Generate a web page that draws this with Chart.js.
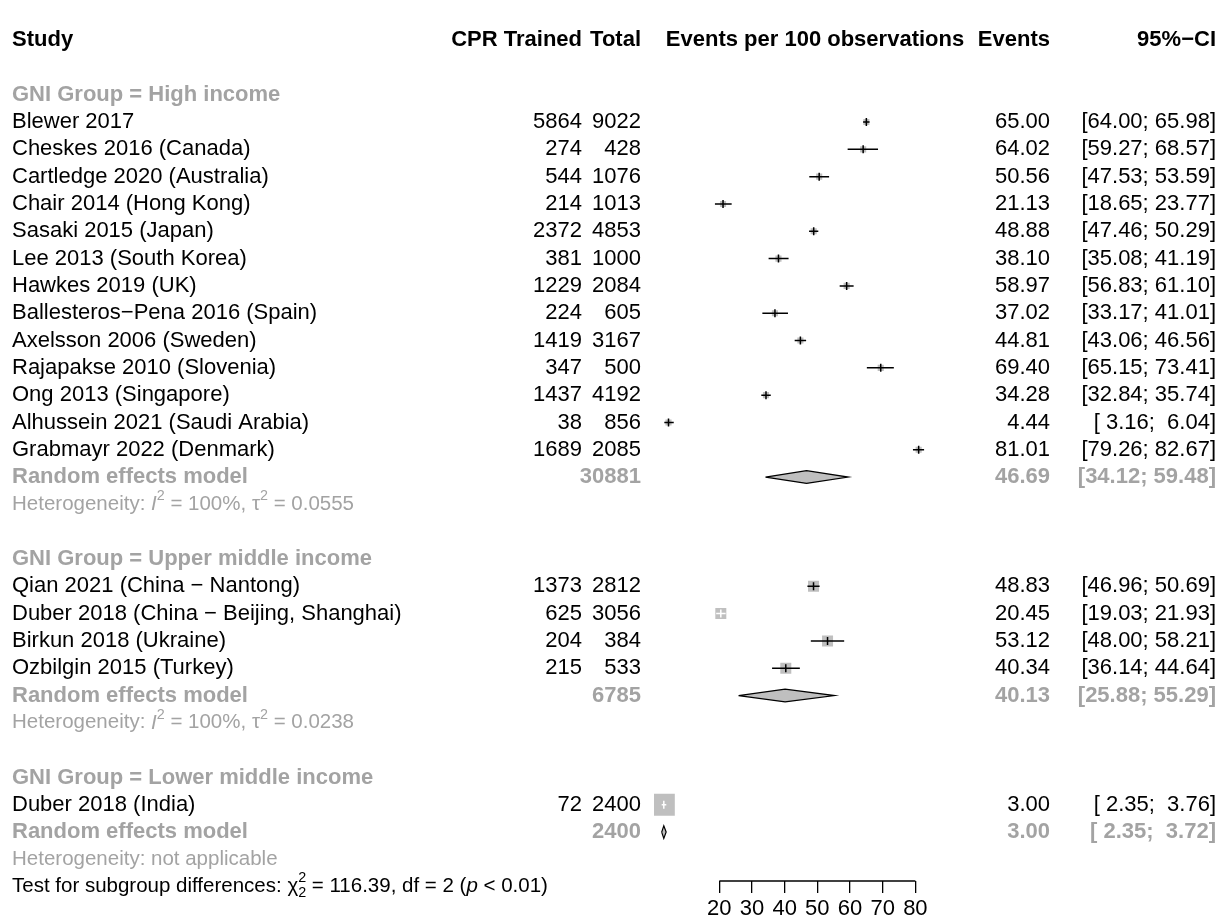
<!DOCTYPE html>
<html lang="en">
<head>
<meta charset="UTF-8">
<title>Forest plot – CPR trained by GNI group</title>
<script src="https://cdn.jsdelivr.net/npm/chart.js"></script>
<style>
  html, body { margin: 0; padding: 0; background: #fff; }
  #forest { display: block; }
</style>
</head>
<body>
<canvas id="forest" width="1226" height="921"></canvas>
<script>
// ---- data ----
const studyNames = [
  'Blewer 2017', 'Cheskes 2016 (Canada)', 'Cartledge 2020 (Australia)', 'Chair 2014 (Hong Kong)',
  'Sasaki 2015 (Japan)', 'Lee 2013 (South Korea)', 'Hawkes 2019 (UK)', 'Ballesteros−Pena 2016 (Spain)',
  'Axelsson 2006 (Sweden)', 'Rajapakse 2010 (Slovenia)', 'Ong 2013 (Singapore)',
  'Alhussein 2021 (Saudi Arabia)', 'Grabmayr 2022 (Denmark)',
  'Qian 2021 (China − Nantong)', 'Duber 2018 (China − Beijing, Shanghai)', 'Birkun 2018 (Ukraine)',
  'Ozbilgin 2015 (Turkey)',
  'Duber 2018 (India)'
];
const studyGroup = [0,0,0,0,0,0,0,0,0,0,0,0,0, 1,1,1,1, 2];
const cprTrained = [5864, 274, 544, 214, 2372, 381, 1229, 224, 1419, 347, 1437, 38, 1689, 1373, 625, 204, 215, 72];
const totals     = [9022, 428, 1076, 1013, 4853, 1000, 2084, 605, 3167, 500, 4192, 856, 2085, 2812, 3056, 384, 533, 2400];
const events  = [65.00, 64.02, 50.56, 21.13, 48.88, 38.10, 58.97, 37.02, 44.81, 69.40, 34.28, 4.44, 81.01, 48.83, 20.45, 53.12, 40.34, 3.00];
const ciLower = [64.00, 59.27, 47.53, 18.65, 47.46, 35.08, 56.83, 33.17, 43.06, 65.15, 32.84, 3.16, 79.26, 46.96, 19.03, 48.00, 36.14, 2.35];
const ciUpper = [65.98, 68.57, 53.59, 23.77, 50.29, 41.19, 61.10, 41.01, 46.56, 73.41, 35.74, 6.04, 82.67, 50.69, 21.93, 58.21, 44.64, 3.76];
// approximate random-effects weights (%) within each group
const weights = [7.7,7.7,7.7,7.7,7.7,7.7,7.7,7.7,7.7,7.7,7.7,7.7,7.7, 25,25,25,25, 100];

const groupNames  = ['GNI Group = High income', 'GNI Group = Upper middle income', 'GNI Group = Lower middle income'];
const groupTotals = [30881, 6785, 2400];
const reEst   = [46.69, 40.13, 3.00];
const reLower = [34.12, 25.88, 2.35];
const reUpper = [59.48, 55.29, 3.72];
const hetI2   = ['100%', '100%', null];
const hetTau2 = ['0.0555', '0.0238', null];
const testChi2 = '116.39', testDf = '2', testP = '< 0.01';
const xTicks = [20, 30, 40, 50, 60, 70, 80];

// ---- layout ----
const FONT = '"Liberation Sans", Arial, Helvetica, sans-serif';
const FS = 22, FS_SMALL = 20.5;
const GRAY = '#a3a3a3', SQ_GRAY = '#bfbfbf';
const ROW_H = 27.8, ROW0_Y = 25;
const AXIS_H = 40, CANVAS_H = 921;
const X_MIN = 0, X_MAX = 88, PLOT_L = 654, PLOT_R = 941.5;
const PX_PER_UNIT = (PLOT_R - PLOT_L) / (X_MAX - X_MIN);
const COL = { study: 12, cpr: 582, total: 641, plotHead: 815, events: 1050, ci: 1216 };
const sqSide = w => 2.2 * Math.sqrt(w);

// row numbers: header 0, blank 1, then groups
const studyRow = [], groupRow = [], reRow = [], hetRow = [];
let r = 2;
groupNames.forEach((g, gi) => {
  groupRow.push(r++);
  studyGroup.forEach((sg, i) => { if (sg === gi) studyRow[i] = r++; });
  reRow.push(r++);
  hetRow.push(r++);
  if (gi < groupNames.length - 1) r++;
});
const testRow = r;

const yMin = -ROW0_Y / ROW_H;
const yMax = yMin + (CANVAS_H - AXIS_H) / ROW_H;

const inside = studyNames.map((_, i) => (ciUpper[i] - ciLower[i]) * PX_PER_UNIT < sqSide(weights[i]));
const fmt2 = v => v.toFixed(2);
const pad5 = s => ' '.repeat(Math.max(0, 5 - s.length)) + s;
const ciText = (lo, hi) => '[' + pad5(fmt2(lo)) + '; ' + pad5(fmt2(hi)) + ']';

// ---- datasets ----
const datasets = [];
datasets.push({
  type: 'scatter',
  data: studyNames.map((_, i) => ({ x: events[i], y: studyRow[i] })),
  pointStyle: 'rect',
  pointRadius: ctx => sqSide(weights[ctx.dataIndex]) / Math.SQRT2,
  backgroundColor: SQ_GRAY,
  pointBorderWidth: 0,
  order: 3
});
studyNames.forEach((_, i) => {
  datasets.push({
    type: 'line',
    data: [{ x: ciLower[i], y: studyRow[i] }, { x: ciUpper[i], y: studyRow[i] }],
    borderColor: inside[i] ? '#ffffff' : '#000000',
    borderWidth: 1.5,
    pointRadius: 0,
    fill: false,
    order: 2
  });
});
datasets.push({
  type: 'scatter',
  data: studyNames.map((_, i) => ({ x: events[i], y: studyRow[i] })),
  pointStyle: 'line',
  rotation: 90,
  pointRadius: 4,
  pointBorderWidth: 1.5,
  pointBorderColor: studyNames.map((_, i) => inside[i] ? '#ffffff' : '#000000'),
  order: 1
});
const DH = 6.5 / ROW_H;
groupNames.forEach((_, g) => {
  const y = reRow[g];
  datasets.push({
    type: 'line',
    data: [
      { x: reLower[g], y }, { x: reEst[g], y: y - DH }, { x: reUpper[g], y },
      { x: reEst[g], y: y + DH }, { x: reLower[g], y }
    ],
    borderColor: '#000',
    borderWidth: 1.2,
    backgroundColor: SQ_GRAY,
    fill: 'shape',
    pointRadius: 0,
    tension: 0,
    order: 3
  });
});

// ---- text + axis line ----
function runs(ctx, parts, x, y, size) {
  let cx = x;
  parts.forEach(p => {
    const s = (p.sup || p.sub) ? size * 0.7 : size;
    ctx.font = (p.italic ? 'italic ' : '') + s + 'px ' + FONT;
    const dy = p.sup ? -size * 0.4 : p.sub ? size * 0.32 : 0;
    ctx.fillText(p.t, cx, y + dy);
    if (!p.stack) cx += ctx.measureText(p.t).width;
  });
}

const forestText = {
  id: 'forestText',
  afterDraw(chart) {
    const ctx = chart.ctx;
    const ys = chart.scales.y, xs = chart.scales.x;
    const Y = row => ys.getPixelForValue(row);
    ctx.save();
    ctx.textBaseline = 'middle';

    // axis baseline from first to last tick
    ctx.strokeStyle = '#000';
    ctx.lineWidth = 1.3;
    ctx.beginPath();
    ctx.moveTo(xs.getPixelForValue(xTicks[0]), chart.chartArea.bottom);
    ctx.lineTo(xs.getPixelForValue(xTicks[xTicks.length - 1]), chart.chartArea.bottom);
    ctx.stroke();

    const put = (t, x, y, align, color, bold, size) => {
      ctx.font = (bold ? 'bold ' : '') + (size || FS) + 'px ' + FONT;
      ctx.fillStyle = color;
      ctx.textAlign = align;
      ctx.fillText(t, x, y);
    };

    // header
    const hy = Y(0);
    put('Study', COL.study, hy, 'left', '#000', true);
    put('CPR Trained', COL.cpr, hy, 'right', '#000', true);
    put('Total', COL.total, hy, 'right', '#000', true);
    put('Events per 100 observations', COL.plotHead, hy, 'center', '#000', true);
    put('Events', COL.events, hy, 'right', '#000', true);
    put('95%−CI', COL.ci, hy, 'right', '#000', true);

    // studies
    studyNames.forEach((name, i) => {
      const y = Y(studyRow[i]);
      put(name, COL.study, y, 'left', '#000', false);
      put(String(cprTrained[i]), COL.cpr, y, 'right', '#000', false);
      put(String(totals[i]), COL.total, y, 'right', '#000', false);
      put(fmt2(events[i]), COL.events, y, 'right', '#000', false);
      put(ciText(ciLower[i], ciUpper[i]), COL.ci, y, 'right', '#000', false);
    });

    // groups
    groupNames.forEach((g, gi) => {
      put(g, COL.study, Y(groupRow[gi]), 'left', GRAY, true);
      const y = Y(reRow[gi]);
      put('Random effects model', COL.study, y, 'left', GRAY, true);
      put(String(groupTotals[gi]), COL.total, y, 'right', GRAY, true);
      put(fmt2(reEst[gi]), COL.events, y, 'right', GRAY, true);
      put(ciText(reLower[gi], reUpper[gi]), COL.ci, y, 'right', GRAY, true);

      ctx.fillStyle = GRAY;
      ctx.textAlign = 'left';
      const hy2 = Y(hetRow[gi]);
      if (hetI2[gi]) {
        runs(ctx, [
          { t: 'Heterogeneity: ' }, { t: 'I', italic: true }, { t: '2', sup: true },
          { t: ' = ' + hetI2[gi] + ', τ' }, { t: '2', sup: true }, { t: ' = ' + hetTau2[gi] }
        ], COL.study, hy2, FS_SMALL);
      } else {
        runs(ctx, [{ t: 'Heterogeneity: not applicable' }], COL.study, hy2, FS_SMALL);
      }
    });

    ctx.fillStyle = '#000';
    ctx.textAlign = 'left';
    runs(ctx, [
      { t: 'Test for subgroup differences: χ' }, { t: '2', sup: true, stack: true }, { t: testDf, sub: true },
      { t: ' = ' + testChi2 + ', df = ' + testDf + ' (' }, { t: 'p', italic: true }, { t: ' ' + testP + ')' }
    ], COL.study, Y(testRow), FS_SMALL);

    ctx.restore();
  }
};

new Chart(document.getElementById('forest'), {
  type: 'scatter',
  data: { datasets },
  options: {
    responsive: false,
    animation: false,
    events: [],
    layout: { padding: { left: PLOT_L, right: 1226 - PLOT_R, top: 0, bottom: 0 } },
    plugins: { legend: { display: false }, tooltip: { enabled: false } },
    scales: {
      x: {
        type: 'linear',
        min: X_MIN,
        max: X_MAX,
        afterBuildTicks: s => { s.ticks = xTicks.map(v => ({ value: v })); },
        afterFit: s => { s.height = AXIS_H; },
        grid: { drawOnChartArea: false, drawTicks: true, tickLength: 12, color: '#000', lineWidth: 1.3 },
        border: { display: false },
        ticks: { color: '#000', font: { family: FONT, size: FS }, padding: 3, maxRotation: 0, autoSkip: false }
      },
      y: { type: 'linear', display: false, reverse: true, min: yMin, max: yMax }
    }
  },
  plugins: [forestText]
});
</script>
</body>
</html>
